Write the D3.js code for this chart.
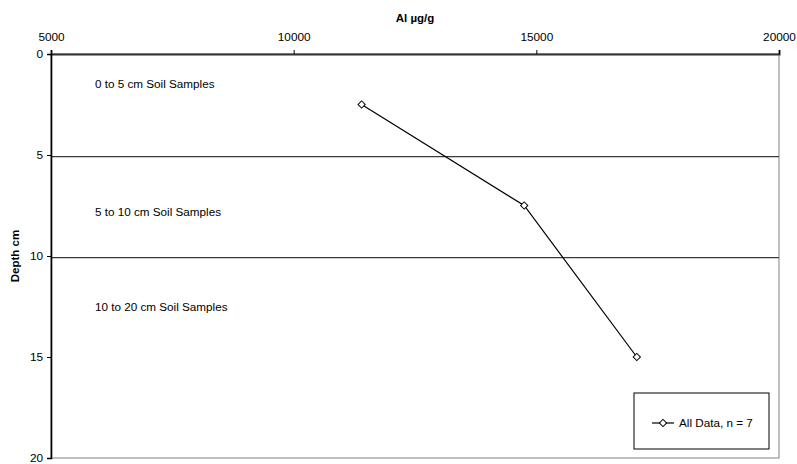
<!DOCTYPE html>
<html>
<head>
<meta charset="utf-8">
<script src="https://cdn.jsdelivr.net/npm/d3@7"></script>
<style>
  html, body { margin: 0; padding: 0; background: #fff; }
  svg { display: block; font-family: "Liberation Sans", Arial, sans-serif; }
</style>
</head>
<body>
<svg id="chart" width="797" height="464"></svg>
<script>
// ---- data ----
const alValues = [11400, 14750, 17070];       // Al µg/g
const depths = [2.5, 7.5, 15];                 // depth cm
const xTicks = [5000, 10000, 15000, 20000];
const yTicks = [0, 5, 10, 15, 20];
const dividerDepths = [5.08, 10.08];
const zoneLabels = ["0 to 5 cm Soil Samples", "5 to 10 cm Soil Samples", "10 to 20 cm Soil Samples"];
const zoneLabelDepths = [1.48, 7.8, 12.5];
const seriesName = "All Data, n = 7";
const xTitle = "Al µg/g";
const yTitle = "Depth cm";

// ---- layout ----
const L = 51, R = 779, T = 54, B = 458;
const svg = d3.select("#chart");
const x = d3.scaleLinear().domain([5000, 20000]).range([L, R]);
const y = d3.scaleLinear().domain([0, 20]).range([T, B]);

// plot border
svg.append("rect").attr("x", L).attr("y", T).attr("width", R - L).attr("height", B - T)
  .attr("fill", "none").attr("stroke", "#808080").attr("stroke-width", 1);

// divider lines
svg.selectAll("line.div").data(dividerDepths).join("line")
  .attr("x1", L).attr("x2", R)
  .attr("y1", d => y(d)).attr("y2", d => y(d))
  .attr("stroke", "#3a3a3a").attr("stroke-width", 1.3);

// zone labels
svg.selectAll("text.zone").data(zoneLabels).join("text")
  .attr("x", 95).attr("y", (d, i) => y(zoneLabelDepths[i]))
  .attr("dy", "0.35em")
  .attr("font-size", "11.7px").attr("fill", "#000")
  .text(d => d);

// top axis
const gx = svg.append("g").attr("transform", `translate(0,${T})`)
  .call(d3.axisTop(x).tickValues(xTicks).tickSize(4).tickPadding(9).tickFormat(d3.format("d")));
gx.select(".domain").attr("stroke", "#333").attr("stroke-width", 2);
gx.selectAll(".tick line").attr("stroke", "#000");
gx.selectAll(".tick text").attr("font-size", "11.8px").attr("font-family", "Liberation Sans, Arial, sans-serif").attr("fill", "#000");

// left axis
const gy = svg.append("g").attr("transform", `translate(${L},0)`)
  .call(d3.axisLeft(y).tickValues(yTicks).tickSize(4).tickPadding(4).tickFormat(d3.format("d")));
gy.select(".domain").attr("stroke", "#000").attr("stroke-width", 1.6);
gy.selectAll(".tick line").attr("stroke", "#000");
gy.selectAll(".tick text").attr("font-size", "11.8px").attr("font-family", "Liberation Sans, Arial, sans-serif")
  .attr("fill", "#000").attr("dy", "0.3em");

// titles
svg.append("text").attr("x", (L + R) / 2).attr("y", 22)
  .attr("text-anchor", "middle").attr("font-size", "11.5px").attr("font-weight", "bold")
  .text(xTitle);
svg.append("text").attr("transform", `translate(19,${(T + B) / 2}) rotate(-90)`)
  .attr("text-anchor", "middle").attr("font-size", "11.5px").attr("font-weight", "bold")
  .text(yTitle);

// series line
const pts = alValues.map((v, i) => [v, depths[i]]);
svg.append("path").datum(pts)
  .attr("fill", "none").attr("stroke", "#000").attr("stroke-width", 1.2)
  .attr("d", d3.line().x(d => x(d[0])).y(d => y(d[1])));

const diamond = d3.symbol().type(d3.symbolSquare).size(26);
svg.selectAll("path.pt").data(pts).join("path")
  .attr("transform", d => `translate(${x(d[0])},${y(d[1])}) rotate(45)`)
  .attr("d", diamond)
  .attr("fill", "#fff").attr("stroke", "#000").attr("stroke-width", 1);

// legend
const lg = svg.append("g");
lg.append("rect").attr("x", 634).attr("y", 393).attr("width", 135).attr("height", 56)
  .attr("fill", "#fff").attr("stroke", "#000").attr("stroke-width", 1);
lg.append("line").attr("x1", 652).attr("x2", 674).attr("y1", 423).attr("y2", 423)
  .attr("stroke", "#000").attr("stroke-width", 1.2);
lg.append("path").attr("transform", "translate(663,423) rotate(45)").attr("d", diamond)
  .attr("fill", "#fff").attr("stroke", "#000").attr("stroke-width", 1);
lg.append("text").attr("x", 679).attr("y", 423).attr("dy", "0.35em")
  .attr("font-size", "11.7px").text(seriesName);
</script>
</body>
</html>
